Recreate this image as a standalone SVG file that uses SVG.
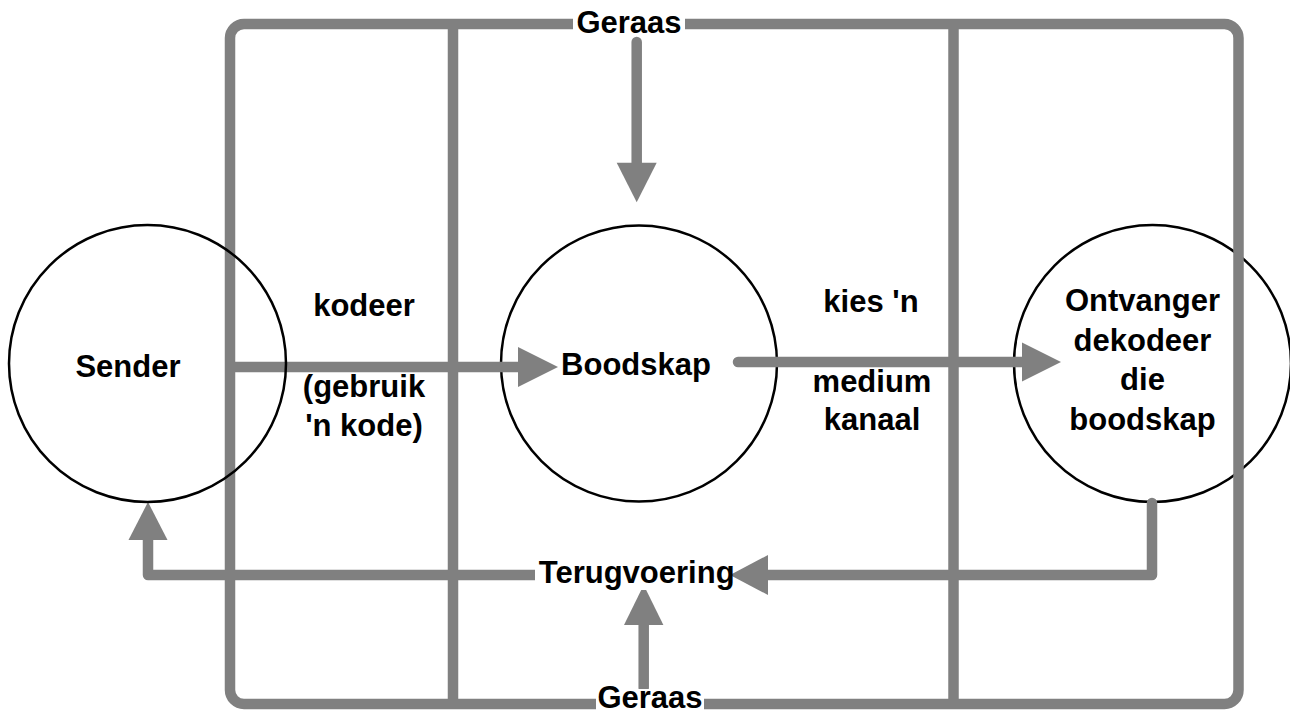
<svg xmlns="http://www.w3.org/2000/svg" width="1290" height="713" viewBox="0 0 1290 713">
<defs>
<style>
.ln{fill:none;stroke:#808080;stroke-width:10.5;stroke-linecap:round;stroke-linejoin:round}
.fr{fill:none;stroke:#808080;stroke-width:10.5}
.hd{fill:#808080;stroke:none}
.nd{fill:none;stroke:#000;stroke-width:2.5}
.tx{font-family:"Liberation Sans",Arial,sans-serif;font-weight:bold;font-size:31px;fill:#000;text-anchor:middle}
.bg{fill:#fff;stroke:none}
</style>
</defs>
<rect width="1290" height="713" fill="#fff"/>
<g id="node-boodskap-shape"><circle class="nd" cx="639" cy="363.5" r="138"/></g>
<g id="node-ontvanger-shape"><circle class="nd" cx="1152.5" cy="363.5" r="138.5"/></g>
<g id="frame">
<rect class="fr" x="230" y="24" width="1008.5" height="680" rx="14" ry="14"/>
<line class="fr" x1="453" y1="24" x2="453" y2="704"/>
<line class="fr" x1="953.5" y1="24" x2="953.5" y2="704"/>
</g>
<g id="connectors">
<line class="ln" x1="232" y1="367" x2="522" y2="367"/>
<polygon class="hd" points="518,347 558,367 518,387"/>
<line class="ln" x1="738" y1="362" x2="1026" y2="362"/>
<polygon class="hd" points="1022,342.5 1061,362 1022,381.5"/>
<line class="ln" x1="636.7" y1="42" x2="636.7" y2="166"/>
<polygon class="hd" points="616.7,162.7 656.7,162.7 636.7,202.3"/>
<line class="ln" x1="643.7" y1="688" x2="643.7" y2="622"/>
<polygon class="hd" points="624,625 663.4,625 643.7,585"/>
<polyline class="ln" points="1152,503 1152,575 764,575"/>
<polygon class="hd" points="768,555 768,595 730,575"/>
<polyline class="ln" points="540,575 148,575 148,536"/>
<polygon class="hd" points="128.5,540 167.5,540 148,502"/>
</g>
<g id="node-sender"><circle class="nd" cx="147.5" cy="363.5" r="138.5"/><text class="tx" x="128" y="377">Sender</text></g>
<g id="node-boodskap"><text class="tx" x="636" y="375">Boodskap</text></g>
<g id="node-ontvanger">
<text class="tx" x="1142.5" y="311">Ontvanger</text>
<text class="tx" x="1142.5" y="350.5">dekodeer</text>
<text class="tx" x="1142.5" y="390">die</text>
<text class="tx" x="1142.5" y="429.5">boodskap</text>
</g>
<g id="label-kodeer">
<text class="tx" x="364" y="316">kodeer</text>
<text class="tx" x="364" y="397">(gebruik</text>
<text class="tx" x="364" y="436">'n kode)</text>
</g>
<g id="label-kanaal">
<text class="tx" x="871" y="311.5">kies 'n</text>
<text class="tx" x="872" y="392">medium</text>
<text class="tx" x="872" y="430">kanaal</text>
</g>
<g id="node-geraas-top"><rect class="bg" x="573" y="12" width="112" height="24"/><text class="tx" x="629" y="33.3">Geraas</text></g>
<g id="node-terugvoering"><rect class="bg" x="535" y="560" width="196" height="30"/><text class="tx" x="636.7" y="583.3">Terugvoering</text></g>
<g id="node-geraas-bottom"><rect class="bg" x="596" y="689" width="108" height="24"/><text class="tx" x="650" y="708">Geraas</text></g>
</svg>
